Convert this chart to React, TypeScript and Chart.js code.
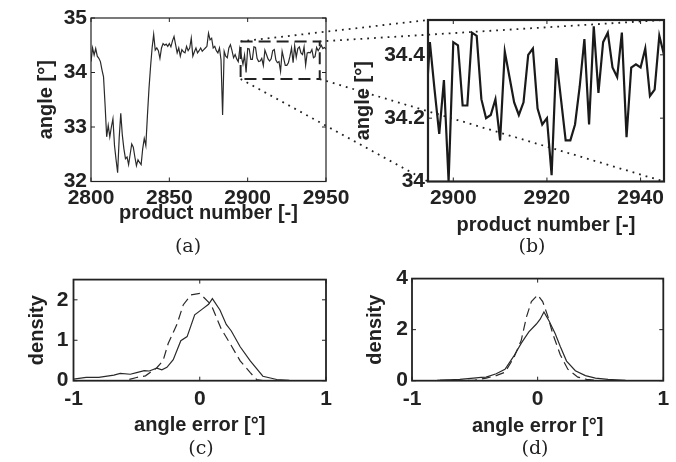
import React, { useEffect, useRef } from 'react';
import { Chart, registerables } from 'chart.js';

Chart.register(...registerables);

// ---------------- data ----------------
const FIRST_PRODUCT = 2800;
const ANGLE = [
  34.20, 34.45, 34.32, 34.44, 34.30, 34.26, 34.20, 34.05, 33.92, 33.40,
  32.82, 33.03, 32.82, 33.00, 33.15, 32.66, 32.40, 32.16, 32.80, 33.25,
  32.85, 32.60, 32.42, 32.45, 32.31, 32.50, 32.69, 32.63, 32.45, 32.29,
  32.40, 32.35, 32.31, 32.60, 32.79, 32.66, 33.20, 33.70, 34.10, 34.45,
  34.70, 34.41, 34.45, 34.40, 34.26, 34.45, 34.53, 34.50, 34.52, 34.48,
  34.53, 34.47, 34.58, 34.66, 34.51, 34.36, 34.45, 34.30, 34.42, 34.38,
  34.36, 34.48, 34.40, 34.45, 34.63, 34.30, 34.38, 34.45, 34.36, 34.40,
  34.45, 34.39, 34.42, 34.45, 34.48, 34.72, 34.60, 34.63, 34.45, 34.48,
  34.40, 34.36, 34.45, 34.23, 33.22, 34.39, 34.30, 34.27, 34.45, 34.51,
  34.40, 34.27, 34.33, 34.25, 34.20,
  34.44, 34.29, 34.15, 34.32, 34.00, 34.44, 34.43, 34.24, 34.24, 34.47,
  34.46, 34.26, 34.20, 34.21, 34.26, 34.13, 34.41, 34.33, 34.25, 34.21,
  34.25, 34.40, 34.42, 34.23, 34.18, 34.20, 34.02, 34.39, 34.26, 34.13,
  34.13, 34.18, 34.30, 34.45, 34.18, 34.49, 34.28, 34.44, 34.47, 34.36,
  34.33, 34.47, 34.14, 34.36, 34.37, 34.36, 34.42, 34.27, 34.29, 34.46,
  34.40, 34.45, 34.50, 34.44, 34.46, 34.43,
];

const A_X_RANGE = [2800, 2950];
const A_Y_RANGE = [32, 35];
const A_X_TICKS = [2800, 2850, 2900, 2950];
const A_Y_TICKS = [32, 33, 34, 35];
const ZOOM_BOX_X = [2895.5, 2946];
const ZOOM_BOX_Y = [33.88, 34.57];

const B_X_RANGE = [2894.6, 2945];
const B_Y_RANGE = [34, 34.51];
const B_X_TICKS = [2900, 2920, 2940];
const B_Y_TICKS = [34, 34.2, 34.4];

const ERR_RANGE = [-1, 1];
const ERR_TICKS = [-1, 0, 1];
const C_Y_RANGE = [0, 2.5];
const C_Y_TICKS = [0, 1, 2];
const D_Y_RANGE = [0, 4];
const D_Y_TICKS = [0, 2, 4];

const C_SOLID_X = [-1, -0.9, -0.8, -0.68, -0.63, -0.55, -0.5, -0.44, -0.4, -0.34, -0.3, -0.26, -0.21, -0.15, -0.1, -0.04, 0.02, 0.07, 0.1, 0.16, 0.21, 0.25, 0.32, 0.4, 0.5, 0.61, 0.71, 0.85, 1.0];
const C_SOLID_Y = [0.04, 0.08, 0.08, 0.14, 0.18, 0.16, 0.2, 0.25, 0.24, 0.31, 0.27, 0.33, 0.52, 0.99, 1.09, 1.63, 1.77, 1.89, 2.03, 1.75, 1.39, 1.23, 0.84, 0.49, 0.11, 0.03, 0.01, 0.0, 0.0];
const C_DASH_X = [-1, -0.6, -0.5, -0.43, -0.34, -0.29, -0.25, -0.18, -0.13, -0.07, 0.0, 0.09, 0.17, 0.24, 0.32, 0.4, 0.45, 0.5, 1.0];
const C_DASH_Y = [0, 0, 0.08, 0.12, 0.32, 0.5, 0.92, 1.4, 1.88, 2.12, 2.16, 1.88, 1.28, 0.92, 0.49, 0.2, 0.03, 0, 0];

const D_SOLID_X = [-1, -0.8, -0.62, -0.51, -0.45, -0.41, -0.33, -0.26, -0.19, -0.13, -0.07, -0.01, 0.02, 0.05, 0.09, 0.14, 0.18, 0.23, 0.3, 0.38, 0.46, 0.56, 0.7, 1.0];
const D_SOLID_Y = [0, 0.01, 0.05, 0.1, 0.13, 0.14, 0.27, 0.45, 0.96, 1.47, 1.91, 2.22, 2.41, 2.69, 2.35, 1.84, 1.34, 0.77, 0.39, 0.2, 0.1, 0.05, 0.01, 0];
const D_DASH_X = [-1, -0.5, -0.41, -0.33, -0.26, -0.19, -0.13, -0.09, -0.05, 0.0, 0.04, 0.08, 0.12, 0.18, 0.24, 0.32, 0.39, 0.5, 1.0];
const D_DASH_Y = [0, 0.02, 0.1, 0.2, 0.33, 0.9, 1.59, 2.48, 3.1, 3.36, 3.1, 2.54, 1.84, 1.02, 0.45, 0.14, 0.05, 0, 0];

// ---------------- styling / layout ----------------
const SANS = "'Liberation Sans', Arial, sans-serif";
const SERIF = "'DejaVu Serif', 'Liberation Serif', serif";
const TEXT = '#222';

const PANEL_A = { left: 0, top: 0, width: 360, height: 245 };
const PANEL_B = { left: 340, top: 0, width: 336, height: 245 };
const PANEL_C = { left: 0, top: 262, width: 360, height: 182 };
const PANEL_D = { left: 340, top: 262, width: 336, height: 182 };

const pairs = (xs: number[], ys: number[]) => xs.map((x, i) => ({ x, y: ys[i] }));

const framePlugin = {
  id: 'frame',
  afterDatasetsDraw(chart: any, _args: any, opts: any) {
    const { ctx, chartArea } = chart;
    const { left, top, right, bottom } = chartArea;
    const tl = 4;
    ctx.save();
    ctx.strokeStyle = '#222';
    ctx.lineWidth = 1;
    ctx.beginPath();
    const xs = chart.scales.x;
    const ys = chart.scales.y;
    for (const t of xs.ticks) {
      const px = xs.getPixelForValue(t.value);
      ctx.moveTo(px, bottom); ctx.lineTo(px, bottom - tl);
      ctx.moveTo(px, top); ctx.lineTo(px, top + tl);
    }
    for (const t of ys.ticks) {
      const py = ys.getPixelForValue(t.value);
      ctx.moveTo(left, py); ctx.lineTo(left + tl, py);
      ctx.moveTo(right, py); ctx.lineTo(right - tl, py);
    }
    ctx.stroke();
    ctx.lineWidth = opts.lineWidth || 1;
    ctx.strokeRect(left, top, right - left, bottom - top);
    ctx.restore();
  },
};

const font = (size: number) => ({ family: SANS, size, weight: 'bold' as const });

function makeConfig(o: any): any {
  return {
    type: 'line',
    data: { datasets: o.datasets },
    options: {
      animation: false,
      responsive: false,
      devicePixelRatio: 1,
      events: [],
      layout: { padding: o.padding },
      plugins: {
        legend: { display: false },
        tooltip: { enabled: false },
        frame: { lineWidth: o.frameWidth },
      },
      elements: { point: { radius: 0 }, line: { tension: 0 } },
      scales: {
        x: {
          type: 'linear',
          min: o.xRange[0],
          max: o.xRange[1],
          grid: { display: false, drawTicks: false },
          border: { display: false },
          afterBuildTicks: (s: any) => { s.ticks = o.xTicks.map((v: number) => ({ value: v })); },
          afterFit: (s: any) => { s.height = o.xHeight; },
          ticks: { font: font(21), color: TEXT, padding: o.xTickPad, maxRotation: 0, autoSkip: false, callback: (v: number) => String(v) },
          title: { display: true, text: o.xTitle, font: font(20), color: TEXT, padding: { top: 0, bottom: o.xTitlePad } },
        },
        y: {
          type: 'linear',
          min: o.yRange[0],
          max: o.yRange[1],
          grid: { display: false, drawTicks: false },
          border: { display: false },
          afterBuildTicks: (s: any) => { s.ticks = o.yTicks.map((v: number) => ({ value: v })); },
          afterFit: (s: any) => { s.width = o.yWidth; },
          ticks: { font: font(21), color: TEXT, padding: o.yTickPad, autoSkip: false, callback: (v: number) => String(v) },
          title: { display: true, text: o.yTitle, font: font(20), color: TEXT, padding: { top: o.yTitlePad, bottom: 0 } },
        },
      },
    },
    plugins: [framePlugin],
  };
}

const seriesPoints = ANGLE.map((y, i) => ({ x: FIRST_PRODUCT + i, y }));
const boxPoints = [
  { x: ZOOM_BOX_X[0], y: ZOOM_BOX_Y[1] },
  { x: ZOOM_BOX_X[1], y: ZOOM_BOX_Y[1] },
  { x: ZOOM_BOX_X[1], y: ZOOM_BOX_Y[0] },
  { x: ZOOM_BOX_X[0], y: ZOOM_BOX_Y[0] },
  { x: ZOOM_BOX_X[0], y: ZOOM_BOX_Y[1] },
];

export default function App() {
  const aRef = useRef<HTMLCanvasElement>(null);
  const bRef = useRef<HTMLCanvasElement>(null);
  const cRef = useRef<HTMLCanvasElement>(null);
  const dRef = useRef<HTMLCanvasElement>(null);
  const oRef = useRef<HTMLCanvasElement>(null);

  useEffect(() => {
    const chartA = new Chart(aRef.current!, makeConfig({
      datasets: [
        { data: seriesPoints, borderColor: '#2a2a2a', borderWidth: 1.2 },
        { data: boxPoints, borderColor: '#222', borderWidth: 2, borderDash: [12, 6] },
      ],
      xRange: A_X_RANGE, yRange: A_Y_RANGE, xTicks: A_X_TICKS, yTicks: A_Y_TICKS,
      padding: { left: 0, top: 18, right: PANEL_A.width - 326, bottom: 0 },
      yWidth: 91, xHeight: PANEL_A.height - 181.5,
      xTitle: 'product number [-]', xTitlePad: 20, yTitle: 'angle [°]', yTitlePad: 34,
      xTickPad: 4, yTickPad: 4, frameWidth: 1.2,
    }));
    const chartB = new Chart(bRef.current!, makeConfig({
      datasets: [
        { data: seriesPoints, borderColor: '#1a1a1a', borderWidth: 2.2 },
      ],
      xRange: B_X_RANGE, yRange: B_Y_RANGE, xTicks: B_X_TICKS, yTicks: B_Y_TICKS,
      padding: { left: 0, top: 20, right: 12, bottom: 0 },
      yWidth: 88, xHeight: PANEL_B.height - 181.5,
      xTitle: 'product number [-]', xTitlePad: 8, yTitle: 'angle [°]', yTitlePad: 11,
      xTickPad: 4, yTickPad: 3, frameWidth: 2.2,
    }));
    const chartC = new Chart(cRef.current!, makeConfig({
      datasets: [
        { data: pairs(C_SOLID_X, C_SOLID_Y), borderColor: '#2a2a2a', borderWidth: 1.2 },
        { data: pairs(C_DASH_X, C_DASH_Y), borderColor: '#2a2a2a', borderWidth: 1.2, borderDash: [9, 5] },
      ],
      xRange: ERR_RANGE, yRange: C_Y_RANGE, xTicks: ERR_TICKS, yTicks: C_Y_TICKS,
      padding: { left: 0, top: 13, right: PANEL_C.width - 326, bottom: 0 },
      yWidth: 73.5, xHeight: PANEL_C.height - 118.7,
      xTitle: 'angle error [°]', xTitlePad: 7, yTitle: 'density', yTitlePad: 25,
      xTickPad: 6, yTickPad: 5, frameWidth: 1.8,
    }));
    const chartD = new Chart(dRef.current!, makeConfig({
      datasets: [
        { data: pairs(D_SOLID_X, D_SOLID_Y), borderColor: '#2a2a2a', borderWidth: 1.2 },
        { data: pairs(D_DASH_X, D_DASH_Y), borderColor: '#2a2a2a', borderWidth: 1.2, borderDash: [9, 5] },
      ],
      xRange: ERR_RANGE, yRange: D_Y_RANGE, xTicks: ERR_TICKS, yTicks: D_Y_TICKS,
      padding: { left: 0, top: 13, right: 12.7, bottom: 0 },
      yWidth: 72, xHeight: PANEL_D.height - 118.7,
      xTitle: 'angle error [°]', xTitlePad: 6, yTitle: 'density', yTitlePad: 23,
      xTickPad: 6, yTickPad: 4, frameWidth: 1.8,
    }));

    // dotted zoom connectors, from the zoom box in (a) to the plot area of (b)
    const ov = oRef.current!;
    const ctx = ov.getContext('2d')!;
    ctx.clearRect(0, 0, ov.width, ov.height);
    const ax = chartA.scales.x, ay = chartA.scales.y;
    const bL = PANEL_A.left + ax.getPixelForValue(ZOOM_BOX_X[0]);
    const bR = PANEL_A.left + ax.getPixelForValue(ZOOM_BOX_X[1]);
    const bT = PANEL_A.top + ay.getPixelForValue(ZOOM_BOX_Y[1]);
    const bB = PANEL_A.top + ay.getPixelForValue(ZOOM_BOX_Y[0]);
    const ca = chartB.chartArea;
    const zL = PANEL_B.left + ca.left, zR = PANEL_B.left + ca.right;
    const zT = PANEL_B.top + ca.top, zB = PANEL_B.top + ca.bottom;
    const segs = [
      [bL, bT, zL, zT],
      [bR, bT, zR, zT],
      [bL, bB, zL, zB],
      [bR, bB, zR, zB],
    ];
    ctx.save();
    ctx.strokeStyle = '#222';
    ctx.lineWidth = 1.8;
    ctx.setLineDash([1.8, 5]);
    for (const [x1, y1, x2, y2] of segs) {
      ctx.beginPath();
      ctx.moveTo(x1, y1);
      ctx.lineTo(x2, y2);
      ctx.stroke();
    }
    ctx.restore();

    return () => {
      chartA.destroy();
      chartB.destroy();
      chartC.destroy();
      chartD.destroy();
    };
  }, []);

  const canvasStyle = (p: any): React.CSSProperties => ({
    position: 'absolute', left: p.left, top: p.top, width: p.width, height: p.height, display: 'block',
  });
  const label = (text: string, x: number, y: number) => (
    <div style={{
      position: 'absolute', left: x, top: y, transform: 'translate(-50%, -50%)',
      fontFamily: SERIF, fontSize: 19, lineHeight: 1, color: TEXT, whiteSpace: 'nowrap',
    }}>{text}</div>
  );

  return (
    <div style={{ position: 'fixed', left: 0, top: 0, width: 676, height: 462, background: '#fff', overflow: 'hidden' }}>
      <canvas ref={aRef} width={PANEL_A.width} height={PANEL_A.height} style={canvasStyle(PANEL_A)} />
      <canvas ref={bRef} width={PANEL_B.width} height={PANEL_B.height} style={canvasStyle(PANEL_B)} />
      <canvas ref={cRef} width={PANEL_C.width} height={PANEL_C.height} style={canvasStyle(PANEL_C)} />
      <canvas ref={dRef} width={PANEL_D.width} height={PANEL_D.height} style={canvasStyle(PANEL_D)} />
      <canvas ref={oRef} width={676} height={462} style={{ position: 'absolute', left: 0, top: 0, pointerEvents: 'none' }} />
      {label('(a)', 188, 245)}
      {label('(b)', 532, 245)}
      {label('(c)', 201, 447)}
      {label('(d)', 535, 447)}
    </div>
  );
}
